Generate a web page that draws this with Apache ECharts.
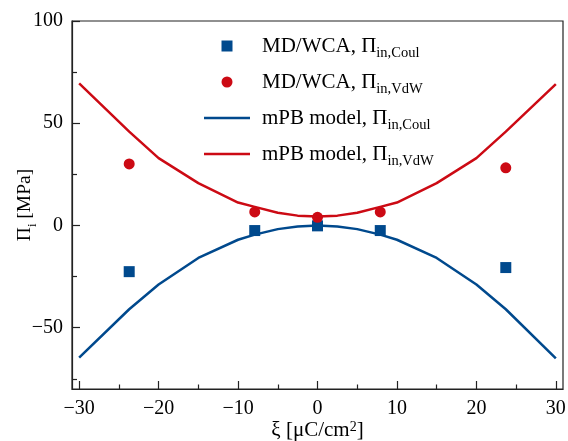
<!DOCTYPE html>
<html>
<head>
<meta charset="utf-8">
<script src="https://cdn.jsdelivr.net/npm/echarts@6/dist/echarts.min.js"></script>
<style>
  html, body { margin: 0; padding: 0; background: #fff; }
  #chart { width: 568px; height: 441px; }
</style>
</head>
<body>
<div id="chart"></div>
<script>
// MD/WCA simulation points
var xiMD = [-23.7, -7.9, 0, 7.9, 23.7];
var coulMD = [-22.6, -2.5, -0.2, -2.5, -20.6];
var vdwMD = [30.1, 6.6, 4.0, 6.6, 28.2];

// mPB model curves
var xiModel = [-30, -23.7, -20, -15, -10, -7.9, -5, -2.5, 0, 2.5, 5, 7.9, 10, 15, 20, 23.7, 30];
var coulModel = [-64.7, -41, -28.9, -15.9, -7.0, -4.5, -1.8, -0.5, 0, -0.5, -1.8, -4.5, -7.0, -15.9, -28.9, -41, -65];
var vdwModel = [69.5, 45.9, 32.9, 20.7, 11.2, 9.1, 6.2, 4.8, 4.4, 4.8, 6.2, 9.1, 11.2, 20.7, 32.9, 45.9, 69.1];

var xMajor = [-30, -20, -10, 0, 10, 20, 30];
var xMinor = [-25, -15, -5, 5, 15, 25];
var yMajor = [-50, 0, 50, 100];
var yMinor = [-75, -25, 25, 75];

var blue = '#00498d';
var red = '#cc0a14';
var font = 'Liberation Serif';

function zip(xs, ys) {
    return xs.map(function (x, i) { return [x, ys[i]]; });
}
function minus(v) {
    return String(v).replace('-', '\u2212');
}

var legendText = {
    mdCoul: '{a|MD/WCA, \u03a0}{s|in,Coul}',
    mdVdw: '{a|MD/WCA, \u03a0}{s|in,VdW}',
    pbCoul: '{a|mPB model, \u03a0}{s|in,Coul}',
    pbVdw: '{a|mPB model, \u03a0}{s|in,VdW}'
};

var squareIcon = 'path://M0,0h10v10h-10z';
var lineIcon = 'path://M0,0h46v2.5h-46z';

var chart = echarts.init(document.getElementById('chart'), null, { renderer: 'canvas' });

var xBase = {
    type: 'value', min: -30.9, max: 30.9, gridIndex: 0,
    splitLine: { show: false }
};
var yBase = {
    type: 'value', min: -80, max: 100, gridIndex: 0,
    splitLine: { show: false }
};

chart.setOption({
    animation: false,
    grid: {
        left: 72, right: 5, top: 21, bottom: 52,
        containLabel: false, outerBoundsMode: 'none',
        show: true, borderColor: '#222', borderWidth: 1.2
    },
    legend: {
        orient: 'vertical',
        left: 204, top: 31, padding: 0,
        itemWidth: 46, itemHeight: 11,
        itemGap: 6,
        data: [
            { name: 'mdCoul', icon: squareIcon },
            { name: 'mdVdw', icon: 'circle' },
            { name: 'pbCoul', icon: lineIcon },
            { name: 'pbVdw', icon: lineIcon }
        ],
        formatter: function (name) { return legendText[name]; },
        textStyle: {
            rich: {
                a: { fontFamily: font, fontSize: 21, color: '#000', verticalAlign: 'middle' },
                s: { fontFamily: font, fontSize: 14.5, color: '#000', verticalAlign: 'bottom' }
            },
            lineHeight: 30,
            padding: [0, 0, 0, 7]
        }
    },
    xAxis: [
        Object.assign({}, xBase, {
            position: 'bottom',
            name: '{a|\u03be [\u03bcC/cm}{s|2}{a|]}',
            nameLocation: 'middle', nameGap: 31, nameMoveOverlap: false,
            nameTextStyle: {
                rich: {
                    a: { fontFamily: font, fontSize: 21, color: '#000', verticalAlign: 'bottom' },
                    s: { fontFamily: font, fontSize: 14, color: '#000', verticalAlign: 'top' }
                }
            },
            axisLine: { onZero: false, lineStyle: { color: '#222', width: 1.2 } },
            axisTick: { inside: true, length: 8, customValues: xMajor, lineStyle: { color: '#222', width: 1.2 } },
            axisLabel: {
                customValues: xMajor, margin: 10,
                fontFamily: font, fontSize: 20, color: '#000',
                formatter: minus
            }
        }),
        Object.assign({}, xBase, {
            position: 'bottom',
            axisLine: { show: false, onZero: false },
            axisTick: { inside: true, length: 4.5, customValues: xMinor, lineStyle: { color: '#222', width: 1.2 } },
            axisLabel: { show: false }
        })
    ],
    yAxis: [
        Object.assign({}, yBase, {
            position: 'left',
            name: '{a|\u03a0}{s|i}{a| [MPa]}',
            nameLocation: 'middle', nameGap: 33, nameRotate: 90, nameMoveOverlap: false,
            nameTextStyle: {
                rich: {
                    a: { fontFamily: font, fontSize: 19.5, color: '#000', verticalAlign: 'middle' },
                    s: { fontFamily: font, fontSize: 13, color: '#000', verticalAlign: 'bottom', lineHeight: 28 }
                }
            },
            axisLine: { onZero: false, lineStyle: { color: '#222', width: 1.2 } },
            axisTick: { inside: true, length: 8, customValues: yMajor, lineStyle: { color: '#222', width: 1.2 } },
            axisLabel: {
                customValues: yMajor, margin: 9,
                fontFamily: font, fontSize: 20, color: '#000',
                formatter: minus
            }
        }),
        Object.assign({}, yBase, {
            position: 'left',
            axisLine: { show: false, onZero: false },
            axisTick: { inside: true, length: 5, customValues: yMinor, lineStyle: { color: '#222', width: 1.2 } },
            axisLabel: { show: false }
        })
    ],
    series: [
        {
            name: 'pbCoul', type: 'line', symbol: 'none',
            data: zip(xiModel, coulModel),
            lineStyle: { color: blue, width: 2.5 },
            itemStyle: { color: blue }
        },
        {
            name: 'pbVdw', type: 'line', symbol: 'none',
            data: zip(xiModel, vdwModel),
            lineStyle: { color: red, width: 2.5 },
            itemStyle: { color: red }
        },
        {
            name: 'mdCoul', type: 'scatter', symbol: 'rect', symbolSize: 11,
            data: zip(xiMD, coulMD),
            itemStyle: { color: blue, opacity: 1 }
        },
        {
            name: 'mdVdw', type: 'scatter', symbol: 'circle', symbolSize: 11,
            data: zip(xiMD, vdwMD),
            itemStyle: { color: red, opacity: 1 }
        }
    ]
});
</script>
</body>
</html>
